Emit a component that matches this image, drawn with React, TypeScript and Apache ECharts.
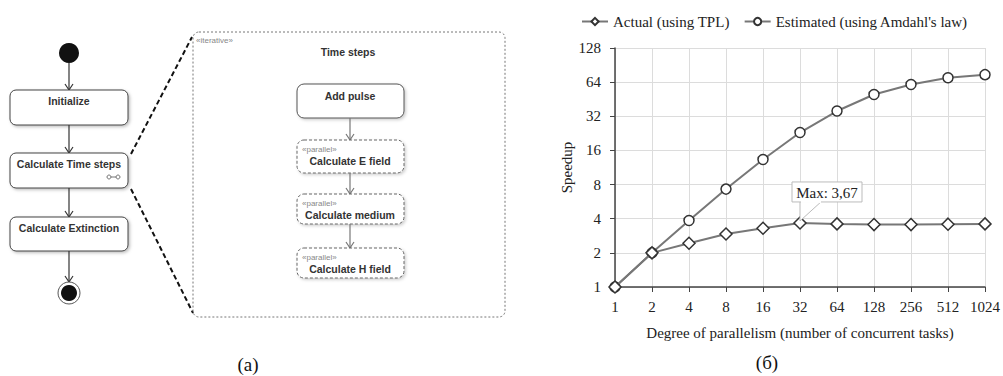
import React, { useEffect, useRef } from 'react';
import * as echarts from 'echarts';

// ---- chart data ----
const categories = ['1', '2', '4', '8', '16', '32', '64', '128', '256', '512', '1024'];
const actualTPL = [1, 2, 2.43, 2.93, 3.3, 3.67, 3.6, 3.55, 3.55, 3.58, 3.6];
const estimatedAmdahl = [1, 2, 3.86, 7.3, 13.3, 23, 35.6, 49.8, 61, 70, 74.5];
const seriesNames = ['Actual (using TPL)', "Estimated (using Amdahl's law)"];
const maxLabel = 'Max: 3,67';
const maxIndex = 5;
const xAxisName = 'Degree of parallelism (number of concurrent tasks)';
const yAxisName = 'Speedup';
const captions = ['(a)', '(б)'];

// ---- diagram texts ----
const outerSteps = ['Initialize', 'Calculate Time steps', 'Calculate Extinction'];
const innerTitle = 'Time steps';
const iterativeTag = '«iterative»';
const innerSteps = [
  { tag: '', name: 'Add pulse' },
  { tag: '«parallel»', name: 'Calculate E field' },
  { tag: '«parallel»', name: 'Calculate medium' },
  { tag: '«parallel»', name: 'Calculate H field' },
];

const SANS = '"Liberation Sans", Arial, sans-serif';
const SERIF = '"Liberation Serif", "Times New Roman", serif';
const DFONT = 'bold 10.5px ' + SANS;

function arrow(x: number, y1: number, y2: number, color: string): any[] {
  return [
    { type: 'line', shape: { x1: x, y1, x2: x, y2 }, style: { stroke: color, lineWidth: 1.2 } },
    {
      type: 'polyline',
      shape: { points: [[x - 4, y2 - 6], [x, y2], [x + 4, y2 - 6]] },
      style: { stroke: color, lineWidth: 1.2, fill: null },
    },
  ];
}

function buildDiagram(): any[] {
  const els: any[] = [];
  const cx = 69;
  // start node
  els.push({ type: 'circle', shape: { cx, cy: 53, r: 10 }, style: { fill: '#111' } });
  const tops = [90, 153, 217];
  const hs = [35, 35, 34];
  els.push(...arrow(cx, 63, tops[0], '#333'));
  outerSteps.forEach((name, i) => {
    els.push({
      type: 'rect',
      shape: { x: 10, y: tops[i], width: 118, height: hs[i], r: 6 },
      style: {
        fill: '#fff', stroke: '#444', lineWidth: 1,
        shadowBlur: 3, shadowColor: 'rgba(0,0,0,0.25)', shadowOffsetX: 1.5, shadowOffsetY: 1.5,
      },
    });
    els.push({
      type: 'text', x: cx, y: tops[i] + 11,
      style: { text: name, font: DFONT, fill: '#333', align: 'center', verticalAlign: 'middle' },
    });
    if (i < outerSteps.length - 1) els.push(...arrow(cx, tops[i] + hs[i], tops[i + 1], '#333'));
  });
  // rake icon
  els.push({ type: 'line', shape: { x1: 110, y1: 177, x2: 117, y2: 177 }, style: { stroke: '#777', lineWidth: 1 } });
  els.push({ type: 'circle', shape: { cx: 109, cy: 177, r: 2 }, style: { fill: '#fff', stroke: '#777', lineWidth: 1 } });
  els.push({ type: 'circle', shape: { cx: 118, cy: 177, r: 2 }, style: { fill: '#fff', stroke: '#777', lineWidth: 1 } });
  // end node
  els.push(...arrow(cx, tops[2] + hs[2], 282, '#333'));
  els.push({ type: 'circle', shape: { cx, cy: 293, r: 11 }, style: { fill: '#fff', stroke: '#555', lineWidth: 1 } });
  els.push({ type: 'circle', shape: { cx, cy: 293, r: 8 }, style: { fill: '#111' } });

  // zoom connectors
  els.push({ type: 'line', shape: { x1: 131, y1: 154, x2: 192, y2: 37 }, style: { stroke: '#111', lineWidth: 2, lineDash: [5, 3] } });
  els.push({ type: 'line', shape: { x1: 131, y1: 189, x2: 193, y2: 313 }, style: { stroke: '#111', lineWidth: 2, lineDash: [5, 3] } });

  // container
  els.push({
    type: 'rect', shape: { x: 193, y: 32, width: 312, height: 285, r: 6 },
    style: { fill: 'none', stroke: '#777', lineWidth: 1, lineDash: [2, 2] },
  });
  els.push({
    type: 'text', x: 196, y: 40,
    style: { text: iterativeTag, font: '8px ' + SANS, fill: '#888', align: 'left', verticalAlign: 'middle' },
  });
  els.push({
    type: 'text', x: 348, y: 52,
    style: { text: innerTitle, font: DFONT, fill: '#333', align: 'center', verticalAlign: 'middle' },
  });

  const icx = 350;
  const itops = [84, 140, 194, 248];
  const ihs = [34, 33, 30, 30];
  innerSteps.forEach((s, i) => {
    const dashed = s.tag !== '';
    els.push({
      type: 'rect',
      shape: { x: 297, y: itops[i], width: 107, height: ihs[i], r: 7 },
      style: {
        fill: '#fff', stroke: dashed ? '#666' : '#555', lineWidth: 1, lineDash: dashed ? [3, 2] : null,
        shadowBlur: 3, shadowColor: 'rgba(0,0,0,0.2)', shadowOffsetX: 1.5, shadowOffsetY: 1.5,
      },
    });
    if (dashed) {
      els.push({
        type: 'text', x: 302, y: itops[i] + 9,
        style: { text: s.tag, font: '8px ' + SANS, fill: '#888', align: 'left', verticalAlign: 'middle' },
      });
      els.push({
        type: 'text', x: icx, y: itops[i] + 21,
        style: { text: s.name, font: DFONT, fill: '#333', align: 'center', verticalAlign: 'middle' },
      });
    } else {
      els.push({
        type: 'text', x: icx, y: itops[i] + 12,
        style: { text: s.name, font: DFONT, fill: '#333', align: 'center', verticalAlign: 'middle' },
      });
    }
    if (i < innerSteps.length - 1) els.push(...arrow(icx, itops[i] + ihs[i], itops[i + 1], '#777'));
  });

  // captions
  els.push({
    type: 'text', x: 248, y: 364,
    style: { text: captions[0], font: '19px ' + SERIF, fill: '#111', align: 'center', verticalAlign: 'middle' },
  });
  els.push({
    type: 'text', x: 767, y: 362,
    style: { text: captions[1], font: '19px ' + SERIF, fill: '#111', align: 'center', verticalAlign: 'middle' },
  });
  return els;
}

export default function App() {
  const ref = useRef<HTMLDivElement>(null);
  useEffect(() => {
    if (!ref.current) return;
    const chart = echarts.init(ref.current, null, { renderer: 'svg' });
    const diagram = buildDiagram();
    const option: any = {
      animation: false,
      backgroundColor: '#fff',
      textStyle: { fontFamily: SERIF },
      legend: {
        left: 576, top: 9,
        itemWidth: 26, itemHeight: 9, itemGap: 14,
        textStyle: { fontFamily: SERIF, fontSize: 15, color: '#222' },
        data: seriesNames,
      },
      grid: { left: 615, right: 17, top: 48, bottom: 89 },
      xAxis: {
        type: 'category',
        data: categories,
        boundaryGap: false,
        name: xAxisName,
        nameLocation: 'middle',
        nameGap: 38,
        nameTextStyle: { fontFamily: SERIF, fontSize: 15, color: '#222' },
        axisLine: { lineStyle: { color: '#444', width: 1.5 } },
        axisTick: { show: true, length: 5, interval: 0, lineStyle: { color: '#444' } },
        axisLabel: { fontFamily: SERIF, fontSize: 15, color: '#222', margin: 12, interval: 0 },
        splitLine: { show: true, interval: 0, lineStyle: { color: '#dcdcdc', width: 1 } },
      },
      yAxis: {
        type: 'log',
        logBase: 2,
        min: 1,
        max: 128,
        interval: 1,
        name: yAxisName,
        nameLocation: 'middle',
        nameRotate: 90,
        nameGap: 40,
        nameTextStyle: { fontFamily: SERIF, fontSize: 15, color: '#222' },
        axisLine: { show: true, lineStyle: { color: '#444', width: 1.5 } },
        axisTick: { show: true, length: 5, lineStyle: { color: '#444' } },
        axisLabel: { fontFamily: SERIF, fontSize: 15, color: '#222', margin: 14 },
        splitLine: { show: true, lineStyle: { color: '#dcdcdc', width: 1 } },
      },
      series: [
        {
          name: seriesNames[0], type: 'line', data: actualTPL,
          symbol: 'diamond', symbolSize: 12,
          lineStyle: { color: '#777', width: 2 },
          itemStyle: { color: '#fff', borderColor: '#333', borderWidth: 1.5 },
          z: 3,
        },
        {
          name: seriesNames[1], type: 'line', data: estimatedAmdahl,
          symbol: 'circle', symbolSize: 10,
          lineStyle: { color: '#777', width: 2 },
          itemStyle: { color: '#fff', borderColor: '#333', borderWidth: 1.5 },
          z: 2,
        },
      ],
      graphic: diagram,
    };
    chart.setOption(option);
    const p = chart.convertToPixel({ gridIndex: 0 }, [maxIndex, actualTPL[maxIndex]]) as number[];
    if (p) {
      const [px, py] = p;
      const bx = px - 8, by = py - 41, bw = 70, bh = 20;
      const ann: any[] = [
        {
          type: 'polygon',
          shape: { points: [[px, by + bh - 1], [px + 22, by + bh - 1], [px, py - 2]] },
          style: { fill: '#fff', stroke: '#bbb', lineWidth: 1 },
          z: 100,
        },
        {
          type: 'rect', shape: { x: bx, y: by, width: bw, height: bh },
          style: { fill: '#fff', stroke: '#bbb', lineWidth: 1 }, z: 100,
        },
        {
          type: 'rect', shape: { x: px + 1, y: by + bh - 2, width: 20, height: 3 },
          style: { fill: '#fff' }, z: 101,
        },
        {
          type: 'text', x: bx + bw / 2, y: by + bh / 2 + 1, z: 102,
          style: { text: maxLabel, font: '15px ' + SERIF, fill: '#222', align: 'center', verticalAlign: 'middle' },
        },
      ];
      chart.setOption({ graphic: [...diagram, ...ann] });
    }
    return () => chart.dispose();
  }, []);
  return (
    <div
      ref={ref}
      style={{ position: 'fixed', left: 0, top: 0, width: 1003, height: 376, background: '#fff' }}
    />
  );
}
